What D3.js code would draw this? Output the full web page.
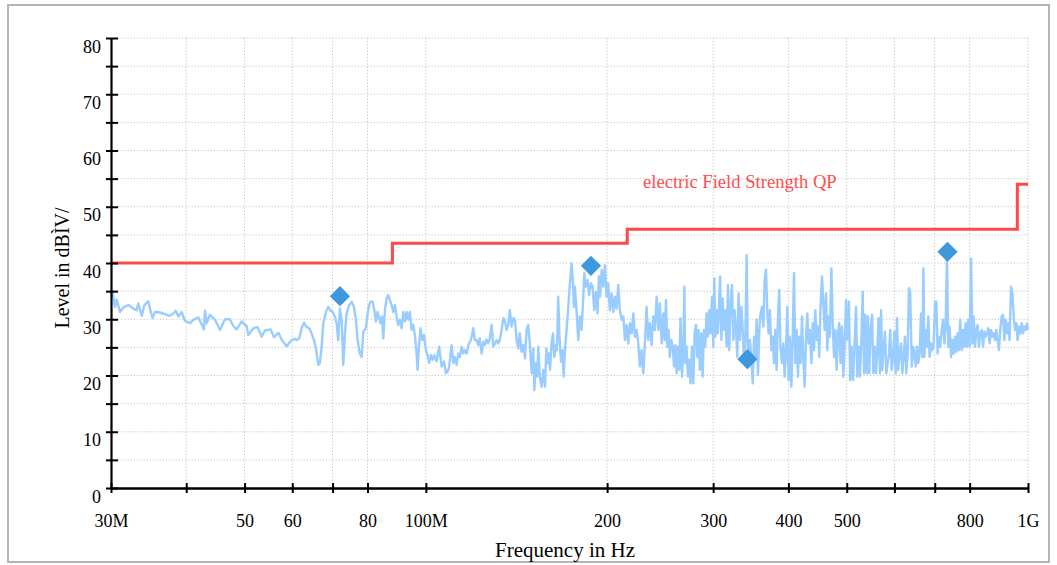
<!DOCTYPE html>
<html>
<head>
<meta charset="utf-8">
<script src="https://cdn.jsdelivr.net/npm/d3@7"></script>
<style>
  html, body { margin: 0; padding: 0; background: #ffffff; }
  svg { display: block; }
  text { font-family: "Liberation Serif", "Times New Roman", serif; }
</style>
</head>
<body>
<script>
// ---------- DATA ----------
// Measured trace: [frequency in MHz, level in dBµV/m]
const trace = [
[30.00,34.0],[30.15,35.1],[30.46,32.2],[30.66,33.5],[31.05,31.3],[31.45,32.1],[31.85,32.4],[32.14,32.5],[32.67,31.9],[33.09,31.6],[33.30,32.8],[33.74,30.6],[34.08,32.5],[34.60,33.2],[34.83,31.8],[35.18,30.2],[35.50,31.3],[36.18,31.2],[36.88,30.9],[37.59,30.6],[38.08,31.05],[38.42,31.5],[38.82,30.5],[39.31,31.3],[39.81,29.7],[40.58,29.3],[41.09,29.9],[41.89,30.3],[42.81,28.2],[42.97,31.5],[43.25,29.3],[43.80,30.8],[44.65,29.9],[45.51,28.1],[46.38,30.0],[47.28,30.0],[47.88,28.8],[48.50,28.2],[49.44,29.6],[50.39,28.8],[50.72,27.2],[51.69,28.4],[52.55,28.6],[53.37,26.9],[54.05,28.0],[55.24,28.2],[55.95,26.8],[56.89,27.6],[57.61,26.4],[58.72,25.2],[59.86,26.3],[60.62,26.5],
[61.0,26.3],[61.6,26.6],[62.19,28.4],[62.74,29.4],[63.38,28.6],[64.0,28.4],[64.6,27.5],[65.19,26.3],[65.69,24.8],[66.26,21.9],[66.67,22.2],[67.13,25.1],[67.56,29.3],[68.24,31.3],[68.84,32.2],[69.44,31.6],[70.01,31.3],[70.64,30.5],[71.08,29.3],[71.52,26.3],[71.97,31.9],[72.47,29.9],[72.92,21.9],[73.39,27.5],[73.85,31.05],[74.59,32.5],[75.30,33.1],[75.96,32.2],[76.54,29.9],[77.02,26.3],[77.69,23.9],[78.23,23.3],[78.72,27.8],[79.53,28.4],[80.03,31.05],[80.52,32.5],[80.92,33.1],[81.59,33.1],[82.11,31.6],[82.63,29.6],[83.14,31.3],[83.66,30.2],[84.07,29.3],[84.55,30.5],[84.98,26.6],[85.52,31.6],[86.06,33.7],[86.60,34.3],[87.14,33.4],[87.74,32.5],[88.29,31.3],[88.86,32.5],[89.41,30.5],[89.97,29.0],[90.53,29.9],[91.16,28.4],[91.73,31.3],[92.32,29.6],[92.89,31.3],[93.47,29.9],[94.06,31.3],[94.71,28.1],[95.30,29.0],[95.91,27.2],[96.51,23.9],[96.88,21.0],[97.47,25.7],[97.96,28.4],[98.65,26.3],[99.28,27.2],[100.03,24.5],[100.66,23.6],[101.28,22.2],[101.97,23.6],[102.62,22.8],[103.27,23.6],[104.18,22.5],[105.22,25.1],[106.23,21.6],[107.17,22.5],[107.98,20.4],[108.66,20.7],[109.33,21.6],[110.37,25.4],[111.06,22.2],[111.77,23.3],[112.47,21.9],[113.17,23.9],[113.88,23.3],[114.67,25.1],[115.39,23.9],[116.12,24.5],[116.85,23.9],[117.87,25.7],[118.83,26.3],[119.89,28.4],[120.65,26.3],
[121.4,26.3],[122.2,25.4],[122.9,26.6],[123.8,23.9],[124.6,26.0],[125.3,25.4],[126.1,26.4],[126.9,25.7],[127.7,26.6],[128.6,29.0],[129.4,25.1],[130.2,25.7],[131.1,26.3],[131.9,25.7],[132.7,26.3],[133.6,28.1],[134.5,30.2],[135.3,29.6],[136.2,28.1],[137.0,29.0],[137.9,31.6],[138.8,28.7],[139.7,30.2],[140.6,29.9],[141.5,26.3],[142.4,24.8],[143.2,27.5],[144.2,24.2],[145.2,25.4],[146.1,23.05],[147.0,28.1],[147.9,29.0],[148.8,25.7],[149.9,20.4],[150.8,24.8],[151.4,17.4],[152.3,22.2],[153.1,19.8],[153.7,25.1],[154.6,19.8],[155.7,18.0],[156.7,21.0],[157.7,18.0],[158.5,24.8],[159.3,22.2],[160.1,23.9],[160.8,21.0],[161.8,26.0],[162.6,27.5],[163.4,23.3],[164.3,25.4],[165.1,24.5],[165.9,34.0],[166.7,26.9],[167.65,22.5],[168.5,24.5],[169.4,19.8],[170.2,24.5],[171.3,28.1],[172.4,32.2],[173.4,36.1],[174.6,39.9],[175.5,36.7],[176.2,32.2],[176.8,35.8],[178.0,31.3],[179.1,26.3],[180.2,30.5],[181.4,28.1],[182.6,34.0],[183.3,38.2],[184.4,35.8],[185.6,37.0],[186.7,34.3],[188.0,36.4],[189.2,35.8],[190.4,31.6],[191.6,34.9],[192.8,31.05],[193.8,37.6],[194.7,34.0],[195.9,38.8],[197.1,35.8],[198.4,39.6],[199.6,34.0],[200.8,36.4],[202.1,31.6],[203.5,34.6],[204.8,31.3],[206.1,34.0],[207.4,31.9],[208.7,36.1],[210.0,31.6],[211.4,29.9],[212.8,30.5],[214.1,26.3],[215.5,29.0],[216.8,25.7],[218.2,29.3],[219.7,27.5],[221.1,31.05],[222.5,26.9],[223.9,28.1],[225.3,25.7],[226.7,21.6],[228.2,24.5],[229.7,20.4],[231.1,25.7],[232.6,32.2],[234.0,26.3],[235.5,29.3],[237.1,25.4],[238.6,30.5],[240.1,28.1],[241.7,34.0],[243.2,28.1],[244.7,32.8],[246.4,25.7],[247.9,31.05],
[249.2,26.3],[250.5,33.4],[251.7,25.1],[253.0,28.1],[254.2,23.3],[255.6,26.3],[257.0,25.1],[258.3,21.6],[259.6,25.4],[260.9,20.4],[262.2,25.1],[263.5,21.0],[264.8,30.2],[266.3,19.8],[267.6,24.5],[268.7,35.8],[269.7,22.2],[271.0,25.1],[272.4,19.8],[273.7,22.8],[275.1,18.6],[276.7,25.1],[278.1,18.6],[279.5,27.5],[280.9,29.0],[282.3,23.3],[283.7,28.1],[285.1,21.0],[286.7,27.5],[288.2,19.8],[289.6,28.1],[291.1,25.1],[292.6,31.05],[294.0,26.9],[295.5,31.6],[297.0,27.5],[298.7,34.0],[300.2,25.1],[301.3,37.3],[302.5,26.9],[304.0,31.6],[305.5,27.5],[307.0,33.4],[308.1,37.6],[309.6,26.3],[311.2,33.7],[312.8,28.1],[314.3,31.6],[315.9,25.1],[317.5,36.1],[319.1,24.5],[320.6,32.2],[322.4,36.1],[324.1,26.3],[325.7,31.6],[327.4,28.1],[329.0,23.3],[330.6,34.6],[332.3,26.3],[334.2,32.2],[335.9,28.1],[337.6,22.2],[339.3,26.3],[341.0,41.4],[342.3,26.3],[343.6,21.6],[345.3,26.3],[347.3,22.8],[349.0,18.6],[350.8,26.9],[352.6,23.3],[354.3,29.9],[356.1,20.1],[357.9,28.1],[359.6,31.05],[361.7,32.2],[363.5,28.7],[365.3,37.0],[367.2,38.8],[369.1,31.05],[370.9,27.5],[372.7,31.6],[374.8,24.5],[376.7,26.9],[378.6,22.2],[380.5,28.1],[382.4,21.0],[384.3,29.9],[386.2,35.2],[388.1,25.1],[390.4,22.2],[392.4,25.7],[394.3,19.8],[396.4,24.5],[398.3,32.2],[400.3,19.2],[402.3,26.9],[404.6,18.0],[406.7,26.9],[408.7,38.2],[410.8,22.2],[412.9,28.1],[414.9,19.8],[417.0,26.9],[419.1,22.2],[421.4,30.5],[423.5,23.3],[425.7,18.0],[427.9,26.9],[430.0,31.05],[432.1,25.7],[434.3,28.1],[436.8,22.2],[439.0,29.3],[441.2,24.5],[443.4,31.6],[445.7,26.3],[447.9,28.7],[450.1,23.3],[452.3,32.2],[454.9,37.6],[457.2,32.8],[459.5,28.1],[461.9,34.6],[464.2,24.5],[466.5,30.5],[468.8,26.9],[471.5,39.05],[473.9,29.3],[476.3,23.3],[478.7,28.1],[481.1,21.0],[483.5,27.5],[485.9,29.3],[488.3,22.2],[491.1,28.7],[493.6,19.8],[496.0,25.1],[498.6,33.4],[501.1,26.3],[503.6,29.3],
[504.2,33.1],[506.7,19.2],[509.6,25.1],[512.2,19.2],[514.8,24.5],[518.1,32.2],[520.7,19.8],[523.2,25.1],[525.8,19.8],[528.8,26.3],[531.5,34.9],[534.2,20.4],[536.9,30.8],[539.6,20.4],[542.3,30.5],[545.0,20.4],[547.6,28.1],[550.8,30.8],[553.6,20.4],[556.4,25.1],[559.2,20.4],[562.0,24.5],[564.8,30.2],[567.6,20.4],[570.1,31.6],[573.0,21.0],[575.9,25.1],[578.8,27.8],[581.7,20.4],[584.6,22.2],[587.5,23.6],[590.4,28.1],[593.8,21.0],[596.9,23.3],[599.9,27.8],[602.9,20.4],[605.9,30.2],[609.0,21.0],[612.0,23.9],[615.4,25.7],[618.5,20.4],[621.7,23.3],[624.8,26.9],[628.0,20.4],[631.1,23.9],[634.2,35.5],[637.4,34.6],[641.1,21.6],[644.3,25.1],[647.6,23.9],[650.8,21.6],[654.1,25.1],[657.4,22.2],[660.6,23.9],[664.3,31.05],[667.7,23.3],[670.2,39.05],[672.8,23.3],[676.2,28.1],[679.6,25.1],[683.0,30.5],[686.4,23.3],[690.2,25.7],[693.7,24.5],[697.2,25.7],[700.8,33.1],[704.3,33.1],[707.8,23.9],[711.3,26.9],[714.9,25.1],[719.0,28.1],[722.6,29.9],[726.3,25.7],[729.9,28.7],[733.6,41.5],[737.2,25.1],[740.9,28.7],[745.1,23.3],[748.9,26.3],[752.7,23.9],[756.5,26.9],[760.3,24.2],[764.1,27.5],[767.9,24.5],[771.7,29.9],[776.1,24.5],[780.0,28.1],[784.0,25.1],[787.9,29.3],[791.9,25.1],[795.9,29.9],[799.8,25.1],[804.3,40.8],[808.4,25.7],[812.5,30.5],[816.6,25.1],[820.7,28.1],[824.8,29.0],[828.9,25.1],[833.0,27.5],[837.9,28.1],[842.1,25.1],[846.4,27.8],[850.7,26.9],[854.9,27.5],[859.2,28.4],[863.4,25.7],[868.2,28.1],[872.6,26.9],[877.1,27.5],[881.5,26.3],[885.9,28.1],[890.3,26.3],[894.8,24.5],[899.2,28.1],[904.4,30.5],[909.0,30.8],[913.6,26.3],[918.2,29.9],[922.9,27.5],[927.4,29.3],[932.0,26.3],[937.2,35.8],[942.0,34.6],[946.8,30.5],[951.5,28.1],[956.3,29.3],[961.1,26.3],[965.9,28.7],[970.7,27.5],[976.3,29.3],[981.3,27.5],[986.3,28.7],[991.2,28.1],[996.2,29.3],[1000,28.1]
];

// Limit line (electric Field Strength QP)
const limitFreqMHz = [30, 88, 88, 216, 216, 960, 960, 1000];
const limitDb      = [40, 40, 43.5, 43.5, 46, 46, 54, 54];
const limitLabel   = "electric Field Strength QP";

// Markers
const markerFreqMHz = [72, 188, 342, 735];
const markerDb      = [34.1, 39.5, 22.9, 42.0];

// Axis ticks
const xTickMHz    = [30, 40, 50, 60, 70, 80, 100, 200, 300, 400, 500, 600, 700, 800, 1000];
const xTickLabels = ["30M", "", "50", "60", "", "80", "100M", "200", "300", "400", "500", "", "", "800", "1G"];
const yTicks      = [0, 5, 10, 15, 20, 25, 30, 35, 40, 45, 50, 55, 60, 65, 70, 75, 80];
const yTickLabels = ["0", "", "10", "", "20", "", "30", "", "40", "", "50", "", "60", "", "70", "", "80"];

const xTitle = "Frequency in Hz";
const yTitle = "Level in dBÌV/";

// ---------- CHART ----------
const W = 1057, H = 565;
const plotL = 111, plotR = 1028, plotT = 38, plotB = 488;

const svg = d3.select("body").append("svg").attr("width", W).attr("height", H);

svg.append("rect").attr("x", 8).attr("y", 5).attr("width", 1041).attr("height", 557)
  .attr("fill", "none").attr("stroke", "#b4b4b4").attr("stroke-width", 2);

const x = d3.scaleLog().domain([30e6, 1e9]).range([plotL, plotR]);
const y = d3.scaleLinear().domain([0, 80]).range([plotB, plotT]);

// grid
const grid = svg.append("g").attr("stroke", "#c4c4c4").attr("stroke-width", 1).attr("stroke-dasharray", "1.2,2");
grid.selectAll("line.h").data(yTicks.filter(v => v > 0)).join("line")
  .attr("class", "h")
  .attr("x1", plotL + 7).attr("x2", plotR)
  .attr("y1", d => y(d)).attr("y2", d => y(d));
grid.selectAll("line.v").data(xTickMHz.filter(f => f > 30)).join("line")
  .attr("class", "v")
  .attr("x1", d => x(d * 1e6)).attr("x2", d => x(d * 1e6))
  .attr("y1", plotT).attr("y2", plotB - 5);

// limit line
const limitPts = limitFreqMHz.map((f, i) => [f, limitDb[i]]);
svg.append("path").datum(limitPts)
  .attr("fill", "none").attr("stroke", "#ff4848").attr("stroke-width", 3)
  .attr("d", d3.line().x(d => x(d[0] * 1e6)).y(d => y(d[1])));

svg.append("text").attr("x", 643).attr("y", 188)
  .attr("fill", "#ff4d4d").attr("font-size", 18.6).text(limitLabel);

// trace
svg.append("path").datum(trace)
  .attr("fill", "none").attr("stroke", "#99ccff").attr("stroke-width", 2.4)
  .attr("stroke-linejoin", "round")
  .attr("d", d3.line().x(d => x(d[0] * 1e6)).y(d => y(d[1])));

// markers
svg.selectAll("path.marker").data(markerFreqMHz.map((f, i) => [f, markerDb[i]])).join("path")
  .attr("class", "marker")
  .attr("d", d3.symbol().type(d3.symbolSquare).size(205))
  .attr("fill", "#3d98de")
  .attr("transform", d => `translate(${x(d[0] * 1e6)},${y(d[1])}) rotate(45)`);

// x axis
const xAxis = d3.axisBottom(x)
  .tickValues(xTickMHz.map(f => f * 1e6))
  .tickFormat((d, i) => xTickLabels[i])
  .tickSizeInner(5).tickSizeOuter(0);
const gx = svg.append("g").attr("transform", `translate(0,${plotB})`).call(xAxis);
gx.select(".domain").attr("stroke", "#000").attr("stroke-width", 2.6);
gx.selectAll(".tick line").attr("y1", -5).attr("y2", 5).attr("stroke", "#000").attr("stroke-width", 2);
gx.selectAll(".tick text").attr("y", 26).attr("dy", "0.71em")
  .attr("font-size", 18).attr("font-family", "Liberation Serif, serif").attr("fill", "#000");

// y axis
const yAxis = d3.axisLeft(y)
  .tickValues(yTicks)
  .tickFormat((d, i) => yTickLabels[i])
  .tickSizeInner(5).tickSizeOuter(0);
const gy = svg.append("g").attr("transform", `translate(${plotL},0)`).call(yAxis);
gy.select(".domain").attr("stroke", "#000").attr("stroke-width", 2.2);
gy.selectAll(".tick line").attr("x1", 7).attr("x2", -5).attr("stroke", "#000").attr("stroke-width", 2);
gy.selectAll(".tick text").attr("x", -10).attr("y", 14).attr("dy", 0)
  .attr("font-size", 18).attr("font-family", "Liberation Serif, serif").attr("fill", "#000");

// titles
svg.append("text").attr("x", 565).attr("y", 557).attr("text-anchor", "middle")
  .attr("font-size", 21).attr("fill", "#000").text(xTitle);
svg.append("text").attr("transform", "translate(69,268) rotate(-90)").attr("text-anchor", "middle")
  .attr("font-size", 20).attr("fill", "#000").text(yTitle);
</script>
</body>
</html>
